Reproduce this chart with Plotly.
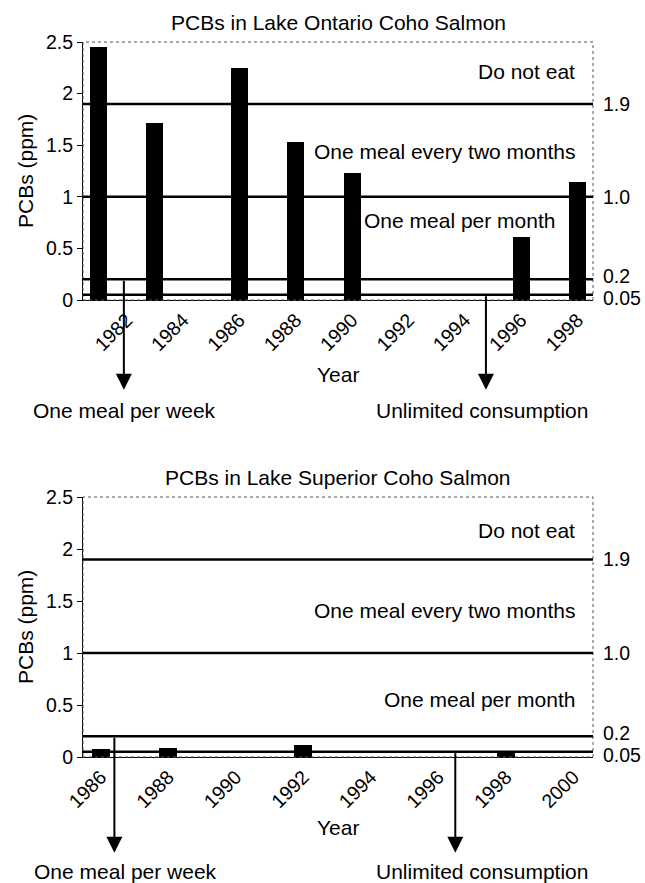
import plotly.graph_objects as go

# ---------------- data ----------------
ontario_years = [1981, 1983, 1986, 1988, 1990, 1996, 1998]
ontario_pcb = [2.45, 1.72, 2.25, 1.53, 1.23, 0.61, 1.14]
ontario_ticks = [1982, 1984, 1986, 1988, 1990, 1992, 1994, 1996, 1998]

superior_years = [1986, 1988, 1992, 1998]
superior_pcb = [0.08, 0.09, 0.12, 0.04]
superior_ticks = [1986, 1988, 1990, 1992, 1994, 1996, 1998, 2000]

thresholds = [1.9, 1.0, 0.2, 0.05]
threshold_labels = ["1.9", "1.0", "0.2", "0.05"]

zone_labels = ["Do not eat", "One meal every two months", "One meal per month"]
zone_label_y_top = [2.21, 1.44, 0.77]
zone_label_y_bot = [2.18, 1.41, 0.55]

titles = ["PCBs in Lake Ontario Coho Salmon", "PCBs in Lake Superior Coho Salmon"]
y_title = "PCBs (ppm)"
x_title = "Year"
arrow_texts = ["One meal per week", "Unlimited consumption"]

# ---------------- layout helpers ----------------
W, H = 645, 883
L, R = 83, 52
FONT = "Liberation Sans, Arial, sans-serif"
TXT = 21
TICK = 19.5


def py(p):
    return 1 - p / H


top_dom = [py(300), py(42)]
bot_dom = [py(757), py(497)]

fig = go.Figure()
fig.add_trace(go.Bar(x=ontario_years, y=ontario_pcb, width=0.6,
                     marker=dict(color="black", line=dict(width=0)),
                     xaxis="x", yaxis="y", showlegend=False))
fig.add_trace(go.Bar(x=superior_years, y=superior_pcb, width=0.53,
                     marker=dict(color="black", line=dict(width=0)),
                     xaxis="x2", yaxis="y2", showlegend=False))

tickfont = dict(family=FONT, size=TICK, color="black")
yax = dict(range=[0, 2.5], dtick=0.5, showgrid=False, zeroline=False,
           showline=True, linecolor="black", linewidth=1.2, ticks="outside",
           ticklen=5, tickcolor="black", tickfont=tickfont, fixedrange=True)
xax = dict(showgrid=False, zeroline=False, showline=True, linecolor="black",
           linewidth=1, ticks="", tickangle=-45, tickfont=tickfont, fixedrange=True)

fig.update_layout(
    width=W, height=H,
    margin=dict(l=L, r=R, t=0, b=0, autoexpand=False),
    paper_bgcolor="white", plot_bgcolor="white",
    bargap=0,
    xaxis=dict(xax, domain=[0, 1], anchor="y", range=[1980.45, 1998.55],
               tickvals=ontario_ticks, ticktext=[str(t) for t in ontario_ticks]),
    yaxis=dict(yax, domain=top_dom, anchor="x"),
    xaxis2=dict(xax, domain=[0, 1], anchor="y2", range=[1985.47, 2000.58],
                tickvals=superior_ticks, ticktext=[str(t) for t in superior_ticks]),
    yaxis2=dict(yax, domain=bot_dom, anchor="x2"),
)

shapes = []
annotations = []
panels = [
    ("x", "y", titles[0], zone_label_y_top, [0.968, 0.968, 0.93], 22, 375, 410,
     [(1981.9, thresholds[2]), (1994.75, thresholds[3])], -0.87,
     [1981.93, 1994.6], 171),
    ("x2", "y2", titles[1], zone_label_y_bot, [0.968, 0.968, 0.968], 477, 827, 871,
     [(1986.4, thresholds[2]), (1996.5, thresholds[3])], -0.92,
     [1986.72, 1997.3], 627),
]

for (xr, yr, title, zy, zx, ty, yeary, arry, arrows, tipy, textx, ymid) in panels:
    # plot border (dotted)
    shapes.append(dict(type="rect", xref=f"{xr} domain", yref=f"{yr} domain",
                       x0=0, x1=1, y0=0, y1=1,
                       line=dict(color="#555", width=1, dash="dot"), layer="above"))
    # threshold lines
    for t, lab in zip(thresholds, threshold_labels):
        shapes.append(dict(type="line", xref=f"{xr} domain", yref=yr,
                           x0=0, x1=1, y0=t, y1=t,
                           line=dict(color="black", width=2.5), layer="above"))
        ys = 0
        if lab == "0.2":
            ys = 3
        if lab == "0.05":
            ys = -3
        annotations.append(dict(xref=f"{xr} domain", yref=yr, x=1, y=t,
                                xshift=8, yshift=ys, text=lab, showarrow=False,
                                xanchor="left", yanchor="middle",
                                font=dict(family=FONT, size=TICK, color="black")))
    # zone labels
    for lab, y, xf in zip(zone_labels, zy, zx):
        annotations.append(dict(xref=f"{xr} domain", yref=yr, x=xf, y=y,
                                text=lab, showarrow=False, xanchor="right",
                                yanchor="middle",
                                font=dict(family=FONT, size=TXT, color="black")))
    # title
    annotations.append(dict(xref=f"{xr} domain", yref="paper", x=0.5, y=py(ty),
                            text=title, showarrow=False, xanchor="center",
                            yanchor="middle",
                            font=dict(family=FONT, size=TXT, color="black")))
    # axis titles
    annotations.append(dict(xref=f"{xr} domain", yref="paper", x=0.5, y=py(yeary),
                            text=x_title, showarrow=False, xanchor="center",
                            yanchor="middle",
                            font=dict(family=FONT, size=TXT, color="black")))
    annotations.append(dict(xref="paper", yref="paper", x=(25 - L) / (W - L - R),
                            y=py(ymid), text=y_title, textangle=-90,
                            showarrow=False, xanchor="center", yanchor="middle",
                            font=dict(family=FONT, size=TXT, color="black")))
    # arrows
    for (ax_, ay_) in arrows:
        annotations.append(dict(xref=xr, yref=yr, x=ax_, y=tipy,
                                axref=xr, ayref=yr, ax=ax_, ay=ay_,
                                text="", showarrow=True, arrowhead=2,
                                arrowsize=1.6, arrowwidth=2, arrowcolor="black",
                                standoff=0, startstandoff=0))
    for txt, tx in zip(arrow_texts, textx):
        annotations.append(dict(xref=xr, yref="paper", x=tx, y=py(arry),
                                text=txt, showarrow=False, xanchor="center",
                                yanchor="middle",
                                font=dict(family=FONT, size=TXT, color="black")))

fig.update_layout(shapes=shapes, annotations=annotations)
fig.write_html("out.html", config={"displayModeBar": False},
               post_script="document.body.style.margin='0';"
                           "document.body.style.overflow='hidden';")
